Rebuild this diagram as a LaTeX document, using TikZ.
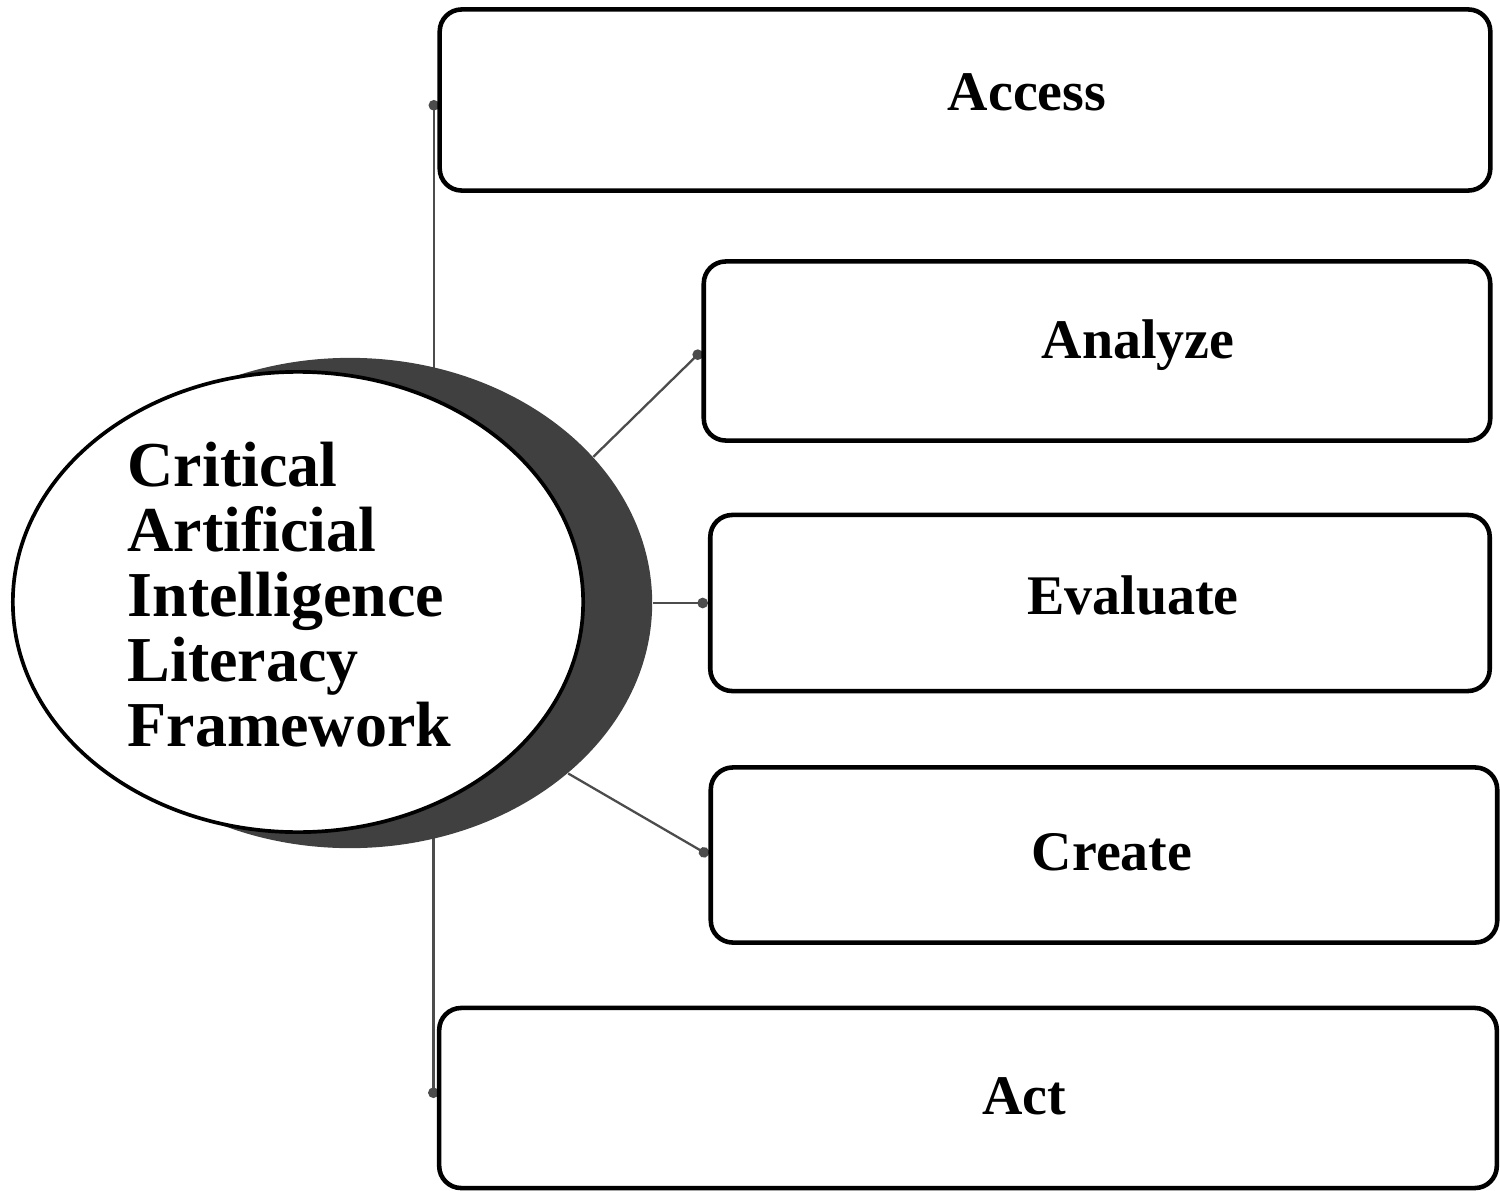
\documentclass[tikz,border=0pt]{standalone}
\usepackage{fontspec}
\setmainfont{Liberation Serif}
\usetikzlibrary{shapes.geometric,arrows.meta,calc}
\pgfdeclarelayer{bg}
\pgfsetlayers{bg,main}
\tikzstyle{box} = [draw, line width=1.3pt, rounded corners=0.22cm, inner sep=0pt]
\tikzstyle{boxtext} = [anchor=base, inner sep=0pt, font=\bfseries\fontsize{15.9}{18}\selectfont]
\tikzstyle{connector} = [line width=0.65pt, draw=black!70, -{Circle[length=3pt]}]

\begin{document}
\begin{tikzpicture}[x=0.01cm, y=-0.01cm]
                \useasboundingbox (0,0) rectangle (1500,1191);

                \node (rim) [ellipse, fill=black!75, minimum width=6.04cm, minimum height=4.9cm, inner sep=0pt] at (350,603) {};
                \node (core) [ellipse, draw, fill=white, line width=1.05pt, minimum width=5.7cm, minimum height=4.6cm, inner sep=0pt] at (298,602) {};
                \node (title) [anchor=north west, align=left, inner sep=0pt, font=\bfseries\fontsize{18.2}{18.5}\selectfont] at (127,441) {Critical\\Artificial\\Intelligence\\Literacy\\Framework};

                \node (acc) [box, minimum width=10.5cm, minimum height=1.81cm] at (965,100) {};
                \node (ana) [box, minimum width=7.86cm, minimum height=1.79cm] at (1097,351) {};
                \node (eva) [box, minimum width=7.79cm, minimum height=1.76cm] at (1100,603) {};
                \node (cre) [box, minimum width=7.86cm, minimum height=1.75cm] at (1104,855) {};
                \node (act) [box, minimum width=10.57cm, minimum height=1.80cm] at (968,1098) {};

                \node (acctxt) [boxtext] at (1027,111) {Access};
                \node (anatxt) [boxtext] at (1138,358) {Analyze};
                \node (evatxt) [boxtext] at (1133,614) {Evaluate};
                \node (cretxt) [boxtext] at (1112,870) {Create};
                \node (acttxt) [boxtext] at (1024,1114) {Act};

                \begin{pgfonlayer}{bg}
                \draw [connector] ([xshift=-1pt]acc.west |- rim.center) -- ([xshift=-1pt]acc.west);
                \draw [connector] (rim.31) -- (ana.west);
                \draw [connector] (rim.east) -- (eva.west);
                \draw [connector] (rim.-38) -- (cre.west);
                \draw [connector] ([xshift=-1pt]act.west |- rim.center) -- ([xshift=-1pt]act.west);
                \end{pgfonlayer}
            \end{tikzpicture}
\end{document}
